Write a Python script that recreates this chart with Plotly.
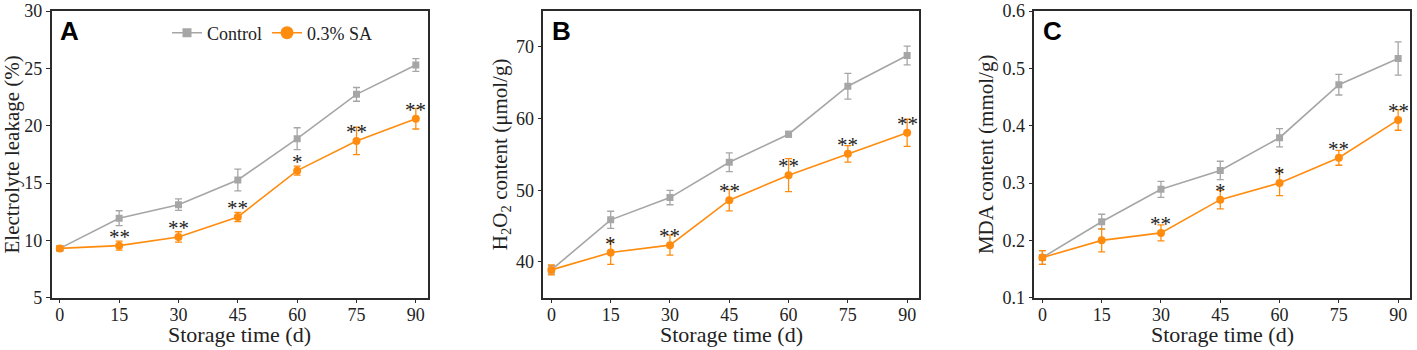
import plotly.graph_objects as go

days = [0, 15, 30, 45, 60, 75, 90]
x_tick_vals = [0, 15, 30, 45, 60, 75, 90]
series_names = ["Control", "0.3% SA"]
panel_letters = ["A", "B", "C"]
x_title = "Storage time (d)"
y_titles = ["Electrolyte leakage (%)", "H<sub>2</sub>O<sub>2</sub> content (μmol/g)", "MDA content (mmol/g)"]

el_control = [9.3, 11.93, 13.11, 15.27, 18.87, 22.73, 25.29]
el_control_err = [0.2, 0.65, 0.5, 0.95, 0.95, 0.6, 0.55]
el_sa = [9.3, 9.54, 10.3, 12.04, 16.08, 18.67, 20.61]
el_sa_err = [0.2, 0.4, 0.45, 0.4, 0.4, 1.2, 0.9]
el_sig = ["", "**", "**", "**", "*", "**", "**"]

h2o2_control = [38.88, 45.86, 48.97, 53.9, 57.81, 64.51, 68.79]
h2o2_control_err = [0.6, 1.2, 1.0, 1.3, 0.4, 1.8, 1.3]
h2o2_sa = [38.88, 41.3, 42.33, 48.6, 52.09, 55.07, 58.0]
h2o2_sa_err = [0.7, 1.65, 1.4, 1.5, 2.3, 1.15, 1.9]
h2o2_sig = ["", "*", "**", "**", "**", "**", "**"]

mda_control = [0.170, 0.2325, 0.289, 0.322, 0.379, 0.4715, 0.517]
mda_control_err = [0.012, 0.013, 0.014, 0.016, 0.016, 0.018, 0.029]
mda_sa = [0.170, 0.200, 0.213, 0.271, 0.300, 0.344, 0.410]
mda_sa_err = [0.012, 0.020, 0.014, 0.016, 0.022, 0.013, 0.018]
mda_sig = ["", "", "**", "*", "*", "**", "**"]

y_ranges = [[5, 30], [35, 75], [0.1, 0.6]]
y_dticks = [5, 10, 0.1]
y_tick0 = [5, 40, 0.1]
y_title_standoff = [6, 3, 3]

panels = [
    (el_control, el_control_err, el_sa, el_sa_err, el_sig),
    (h2o2_control, h2o2_control_err, h2o2_sa, h2o2_sa_err, h2o2_sig),
    (mda_control, mda_control_err, mda_sa, mda_sa_err, mda_sig),
]

GRAY = "#A6A6A6"
ORANGE = "#FF8C0F"
AXC = "#2b2b2b"
TXT = "#222"
SERIF = "Liberation Serif, Times New Roman, serif"
SANS = "Liberation Sans, Arial, sans-serif"

W, H = 1417, 350
x_px = [(51.7, 427.7), (543.3, 919.0), (1034.3, 1410.0)]
y_dom = [1 - 297.7 / H, 1 - 11 / H]

fig = go.Figure()
annotations = []
for i, (c, ce, s, se, sig) in enumerate(panels):
    n = "" if i == 0 else str(i + 1)
    xa, ya = "x" + n, "y" + n
    fig.add_trace(go.Scatter(
        x=days, y=c, mode="lines+markers", name=series_names[0], showlegend=False,
        line=dict(color=GRAY, width=1.6),
        marker=dict(symbol="square", size=7, color=GRAY),
        error_y=dict(type="data", array=ce, color=GRAY, thickness=1.3, width=3.5),
        xaxis=xa, yaxis=ya))
    fig.add_trace(go.Scatter(
        x=days, y=s, mode="lines+markers", name=series_names[1], showlegend=False,
        line=dict(color=ORANGE, width=1.6),
        marker=dict(symbol="circle", size=8, color=ORANGE),
        error_y=dict(type="data", array=se, color=ORANGE, thickness=1.3, width=3.5),
        xaxis=xa, yaxis=ya))
    for d, v, t in zip(days, s, sig):
        if t:
            annotations.append(dict(x=d, y=v, xref=xa, yref=ya, text=t, showarrow=False,
                                    yanchor="middle", yshift=9,
                                    font=dict(family=SERIF, size=21, color=TXT)))
    dom = [x_px[i][0] / W, x_px[i][1] / W]
    axis_common = dict(showline=True, linecolor=AXC, linewidth=1.5, mirror=True,
                       ticks="outside", ticklen=4, tickwidth=1.3, tickcolor=AXC,
                       showgrid=False, zeroline=False, automargin=False,
                       tickfont=dict(family=SERIF, size=18, color=TXT))
    fig.layout["xaxis" + n] = dict(
        domain=dom, anchor=ya, range=[-2.05, 93.0], tickmode="array",
        tickvals=x_tick_vals, ticktext=[str(v) for v in x_tick_vals],
        ticklabelstandoff=-4,
        **axis_common)
    fig.layout["yaxis" + n] = dict(
        domain=y_dom, anchor=xa, range=y_ranges[i], tick0=y_tick0[i], dtick=y_dticks[i],
        title=dict(text=y_titles[i], font=dict(family=SERIF, size=21, color=TXT),
                   standoff=y_title_standoff[i]),
        **axis_common)
    annotations.append(dict(x=0.5, y=1 - 334 / H, xref=xa + " domain", yref="paper",
                            text=x_title, showarrow=False, xanchor="center", yanchor="middle",
                            font=dict(family=SERIF, size=22, color=TXT)))
    annotations.append(dict(x=0.018, y=0.93, xref=xa + " domain", yref=ya + " domain",
                            text="<b>" + panel_letters[i] + "</b>", showarrow=False,
                            xanchor="left", yanchor="middle",
                            font=dict(family=SANS, size=26, color="black")))

# legend-only traces
fig.add_trace(go.Scatter(x=[None], y=[None], mode="lines+markers", name=series_names[0],
                         line=dict(color=GRAY, width=1.6),
                         marker=dict(symbol="square", size=9, color=GRAY)))
fig.add_trace(go.Scatter(x=[None], y=[None], mode="lines+markers", name=series_names[1],
                         line=dict(color=ORANGE, width=1.6),
                         marker=dict(symbol="circle", size=13, color=ORANGE)))

fig.update_layout(
    width=W, height=H, margin=dict(l=0, r=0, t=0, b=0),
    paper_bgcolor="white", plot_bgcolor="white",
    annotations=annotations,
    legend=dict(orientation="h", x=167 / W, y=1 - 33 / H, xanchor="left", yanchor="middle",
                bgcolor="rgba(0,0,0,0)", font=dict(family=SERIF, size=18, color=TXT),
                itemwidth=30, tracegroupgap=0),
)

fig.write_html("out.html", config={"displayModeBar": False},
               post_script="document.body.style.margin='0';document.body.style.overflow='hidden';")
